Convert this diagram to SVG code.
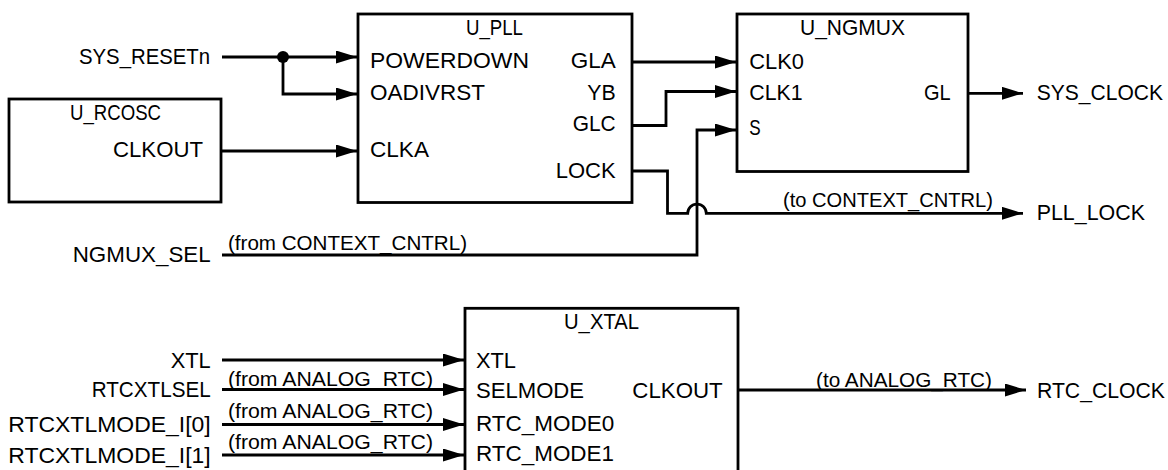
<svg xmlns="http://www.w3.org/2000/svg" width="1168" height="470" viewBox="0 0 1168 470">
<style>
.box{fill:#fff;stroke:#000;stroke-width:2.8}
.w{fill:none;stroke:#000;stroke-width:2.8}
text{font-family:"Liberation Sans",Arial,sans-serif;fill:#000}
.l{font-size:22px}
.a{font-size:19.5px}
</style>
<defs>
<marker id="ar" markerUnits="userSpaceOnUse" markerWidth="21" markerHeight="13" refX="21" refY="6.5" orient="auto" viewBox="0 0 21 13">
<path d="M0,0 L21,6.5 L0,13 z" fill="#000"/>
</marker>
</defs>
<rect width="1168" height="470" fill="#fff"/>

<g id="connectors">
<path class="w" d="M222,57 H357" marker-end="url(#ar)"/>
<path class="w" d="M283,57 V94 H357" marker-end="url(#ar)"/>
<circle cx="283" cy="57" r="6" fill="#000"/>
<path class="w" d="M221,151 H357" marker-end="url(#ar)"/>
<path class="w" d="M632,62 H736" marker-end="url(#ar)"/>
<path class="w" d="M632,125.5 H666 V91.5 H736" marker-end="url(#ar)"/>
<path class="w" d="M222,255 H697 V130 H736" marker-end="url(#ar)"/>
<path class="w" d="M632,171 H667.5 V213.3 H687.7 A9.3,9.3 0 0 1 706.3,213.3 H1023" marker-end="url(#ar)"/>
<path class="w" d="M968,93.3 H1023" marker-end="url(#ar)"/>
<path class="w" d="M222,360 H464" marker-end="url(#ar)"/>
<path class="w" d="M222,389.5 H464" marker-end="url(#ar)"/>
<path class="w" d="M222,424.5 H464" marker-end="url(#ar)"/>
<path class="w" d="M222,455 H464" marker-end="url(#ar)"/>
<path class="w" d="M738,390 H1026" marker-end="url(#ar)"/>
<text class="a" x="783" y="207" textLength="210" lengthAdjust="spacingAndGlyphs">(to CONTEXT_CNTRL)</text>
<text class="a" x="228" y="250" textLength="239" lengthAdjust="spacingAndGlyphs">(from CONTEXT_CNTRL)</text>
<text class="a" x="228" y="386" textLength="205" lengthAdjust="spacingAndGlyphs">(from ANALOG_RTC)</text>
<text class="a" x="228" y="418" textLength="205" lengthAdjust="spacingAndGlyphs">(from ANALOG_RTC)</text>
<text class="a" x="228" y="449" textLength="205" lengthAdjust="spacingAndGlyphs">(from ANALOG_RTC)</text>
<text class="a" x="816" y="387" textLength="176" lengthAdjust="spacingAndGlyphs">(to ANALOG_RTC)</text>
</g>

<g id="ports">
<text class="l" x="79" y="64" textLength="131" lengthAdjust="spacingAndGlyphs">SYS_RESETn</text>
<text class="l" x="72.7" y="261.7" textLength="138" lengthAdjust="spacingAndGlyphs">NGMUX_SEL</text>
<text class="l" x="1036.7" y="100" textLength="126.3" lengthAdjust="spacingAndGlyphs">SYS_CLOCK</text>
<text class="l" x="1036.7" y="220" textLength="108.3" lengthAdjust="spacingAndGlyphs">PLL_LOCK</text>
<text class="l" x="170.7" y="367.7" textLength="40" lengthAdjust="spacingAndGlyphs">XTL</text>
<text class="l" x="91.7" y="397.3" textLength="119" lengthAdjust="spacingAndGlyphs">RTCXTLSEL</text>
<text class="l" x="8.3" y="431.7" textLength="202.4" lengthAdjust="spacingAndGlyphs">RTCXTLMODE_I[0]</text>
<text class="l" x="8.3" y="462.5" textLength="202.4" lengthAdjust="spacingAndGlyphs">RTCXTLMODE_I[1]</text>
<text class="l" x="1037" y="397.7" textLength="128" lengthAdjust="spacingAndGlyphs">RTC_CLOCK</text>
</g>

<g id="U_RCOSC">
<rect class="box" x="9" y="99" width="212" height="103"/>
<text class="l" x="70" y="119.5" textLength="91" lengthAdjust="spacingAndGlyphs">U_RCOSC</text>
<text class="l" x="113" y="157" textLength="90" lengthAdjust="spacingAndGlyphs">CLKOUT</text>
</g>

<g id="U_PLL">
<rect class="box" x="358" y="14" width="274" height="188.5"/>
<text class="l" x="466" y="35" textLength="57" lengthAdjust="spacingAndGlyphs">U_PLL</text>
<text class="l" x="370" y="68" textLength="159" lengthAdjust="spacingAndGlyphs">POWERDOWN</text>
<text class="l" x="370" y="100" textLength="115" lengthAdjust="spacingAndGlyphs">OADIVRST</text>
<text class="l" x="370" y="157" textLength="59" lengthAdjust="spacingAndGlyphs">CLKA</text>
<text class="l" x="570.7" y="68" textLength="45" lengthAdjust="spacingAndGlyphs">GLA</text>
<text class="l" x="587.3" y="100" textLength="28.4" lengthAdjust="spacingAndGlyphs">YB</text>
<text class="l" x="572.7" y="131" textLength="43" lengthAdjust="spacingAndGlyphs">GLC</text>
<text class="l" x="555.7" y="178" textLength="60" lengthAdjust="spacingAndGlyphs">LOCK</text>
</g>

<g id="U_NGMUX">
<rect class="box" x="737" y="14" width="231" height="157.5"/>
<text class="l" x="800" y="35" textLength="105" lengthAdjust="spacingAndGlyphs">U_NGMUX</text>
<text class="l" x="749.3" y="69" textLength="54.7" lengthAdjust="spacingAndGlyphs">CLK0</text>
<text class="l" x="749.3" y="100" textLength="53.4" lengthAdjust="spacingAndGlyphs">CLK1</text>
<text class="l" x="749.3" y="135" textLength="11.4" lengthAdjust="spacingAndGlyphs">S</text>
<text class="l" x="924" y="100" textLength="26.7" lengthAdjust="spacingAndGlyphs">GL</text>
</g>

<g id="U_XTAL">
<rect class="box" x="465" y="308.3" width="273" height="175"/>
<text class="l" x="564" y="329" textLength="75" lengthAdjust="spacingAndGlyphs">U_XTAL</text>
<text class="l" x="476" y="368.3" textLength="40" lengthAdjust="spacingAndGlyphs">XTL</text>
<text class="l" x="476" y="397.7" textLength="108" lengthAdjust="spacingAndGlyphs">SELMODE</text>
<text class="l" x="632.3" y="397.7" textLength="90.4" lengthAdjust="spacingAndGlyphs">CLKOUT</text>
<text class="l" x="476" y="431" textLength="138.3" lengthAdjust="spacingAndGlyphs">RTC_MODE0</text>
<text class="l" x="476" y="460.7" textLength="138" lengthAdjust="spacingAndGlyphs">RTC_MODE1</text>
</g>
</svg>
